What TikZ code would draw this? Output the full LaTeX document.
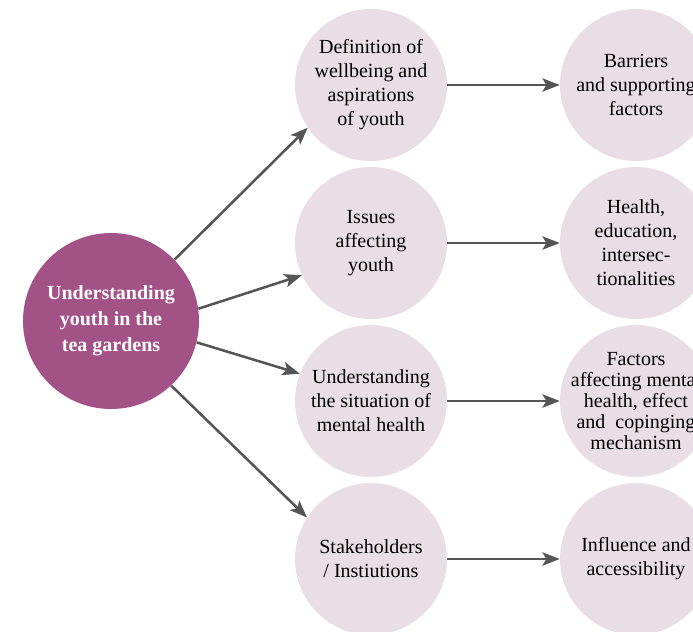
\documentclass[tikz,border=0pt]{standalone}
\usepackage{fontspec}
\setmainfont{Liberation Serif}
\usetikzlibrary{arrows.meta}
\definecolor{plum}{RGB}{163,82,135}
\definecolor{blush}{RGB}{234,222,230}
\definecolor{arrowgrey}{RGB}{85,85,85}

\begin{document}
\begin{tikzpicture}[x=0.75pt,y=0.75pt,yscale=-1,xscale=1,
    hub/.style={circle, fill=plum, draw=none, minimum size=132pt, inner sep=0pt, text=white, align=center, font=\fontsize{15}{19.5}\selectfont\bfseries},
    topic/.style={circle, fill=blush, draw=none, minimum size=114pt, inner sep=-15pt, align=center, font=\fontsize{15}{18}\selectfont},
    link/.style={draw=arrowgrey, line width=1.9pt, -{Stealth[length=13pt,width=10pt,inset=3pt]}}]
\useasboundingbox (0,0) rectangle (693,632);

%Shape: Circle [id:hub]
    \node [hub] (youth) at (111,321) {Understanding\\youth in the\\tea gardens};

%Shape: Circle [id:middle column]
    \node [topic] (wellbeing) at (371,85) {Definition of\\wellbeing and\\aspirations\\of youth};
    \node [topic] (issues) at (371,243) {Issues\\affecting\\youth};
    \node [topic] (mental) at (371,401) {Understanding\\the situation of\\mental health};
    \node [topic] (stake) at (371,559) {Stakeholders\\/ Instiutions};

%Shape: Circle [id:right column]
    \node [topic] (barriers) at (636,85) {Barriers\\and supporting\\factors};
    \node [topic] (health) at (636,243) {Health,\\education,\\intersec-\\tionalities};
    \node [topic, font=\fontsize{15}{15.75}\selectfont] (factors) at (636,401) {Factors\\affecting mental\\health, effect\\and~ copinging\\mechanism};
    \node [topic] (influence) at (636,559) {Influence and\\accessibility};

%Straight Lines [id:hub to middle]
    \draw [link] (youth.44) -- (wellbeing.214);
    \draw [link] (youth.8) -- (issues.205);
    \draw [link] (youth.-14) -- (mental.159);
    \draw [link] (youth.-47) -- (stake.147);

%Straight Lines [id:middle to right]
    \draw [link] (wellbeing) -- (barriers);
    \draw [link] (issues) -- (health);
    \draw [link] (mental) -- (factors);
    \draw [link] (stake) -- (influence);

\end{tikzpicture}
\end{document}
